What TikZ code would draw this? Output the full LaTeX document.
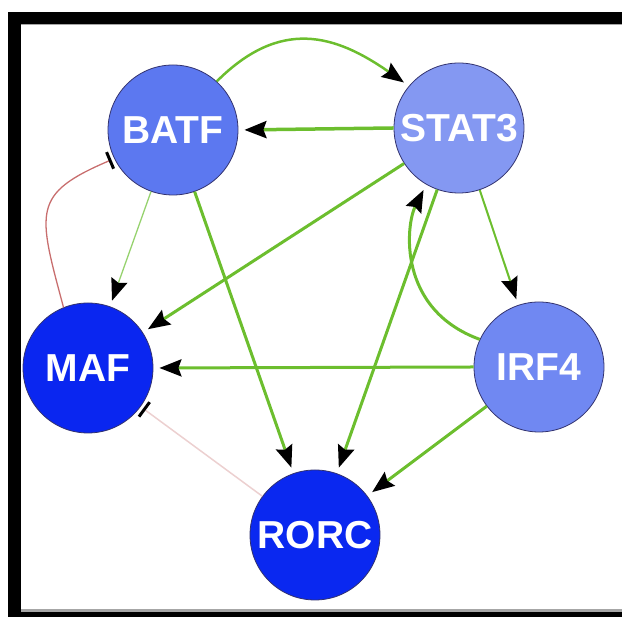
\documentclass[tikz,border=0pt]{standalone}
\usepackage{fontspec}
\setmainfont{Liberation Sans}
\usetikzlibrary{arrows.meta}
\definecolor{batfc}{RGB}{92,120,240}
\definecolor{stat3c}{RGB}{132,152,242}
\definecolor{irf4c}{RGB}{112,136,242}
\definecolor{mafc}{RGB}{10,38,240}
\definecolor{rorcc}{RGB}{10,40,240}
\definecolor{grn}{RGB}{108,190,46}
\definecolor{grnlt}{RGB}{150,210,110}
\definecolor{inhred}{RGB}{200,110,110}
\definecolor{inhpink}{RGB}{236,208,208}
\definecolor{rimc}{RGB}{50,50,110}
\tikzset{
  gene/.style={circle, minimum size=130pt, inner sep=0pt, draw=rimc, line width=0.8pt,
    text=white, font=\bfseries\fontsize{39}{39}\selectfont},
  act/.style={draw=grn, line width=3pt, shorten >=6pt,
    -{Stealth[length=22pt,width=17pt,inset=3pt,color=black]}},
  actthin/.style={act, draw=grnlt, line width=1.3pt},
  actmid/.style={act, line width=2pt},
  inh/.style={draw=inhred, line width=1.3pt, shorten >=3pt,
    -{Bar[width=18pt,line width=3pt,color=black]}},
  inhfaint/.style={inh, draw=inhpink, line width=1.5pt}
}
\begin{document}
\begin{tikzpicture}[x=1pt,y=1pt]
\useasboundingbox (0,0) rectangle (622,617);
% frame
\fill[black] (8,605) rectangle (622,593);
\fill[black!35] (20,593) rectangle (622,591.5);
\fill[black] (8,605) rectangle (21,0);
\fill[black!35] (21,8) rectangle (622,5);
\fill[black] (8,0) rectangle (622,5);
% nodes
\node[gene, fill=batfc]  (batf)  at (173,487) {BATF};
\node[gene, fill=stat3c] (stat3) at (459,489) {STAT3};
\node[gene, fill=mafc]   (maf)   at (88,249)  {MAF};
\node[gene, fill=irf4c]  (irf4)  at (539,250) {IRF4};
\node[gene, fill=rorcc]  (rorc)  at (315,82)  {RORC};
% edges
\draw[act, line width=2.5pt] (batf.48) .. controls +(45:90) and +(145:90) .. (stat3.140);
\draw[act, line width=3.5pt] (stat3.180) -- (batf.0);
\draw[act] (stat3) -- (maf);
\draw[actthin] (batf) -- (maf);
\draw[act] (batf) -- (rorc);
\draw[act] (stat3) -- (rorc);
\draw[actmid] (stat3) -- (irf4);
\draw[act] (irf4.155) .. controls +(160:88) and +(243:45) .. (stat3.240);
\draw[act] (irf4.180) -- (maf.0);
\draw[act] (irf4) -- (rorc);
\draw[inh] (maf.112) .. controls +(105:100) and +(203:90) .. (batf.206);
\draw[inhfaint] (rorc) -- (maf);
\end{tikzpicture}
\end{document}
